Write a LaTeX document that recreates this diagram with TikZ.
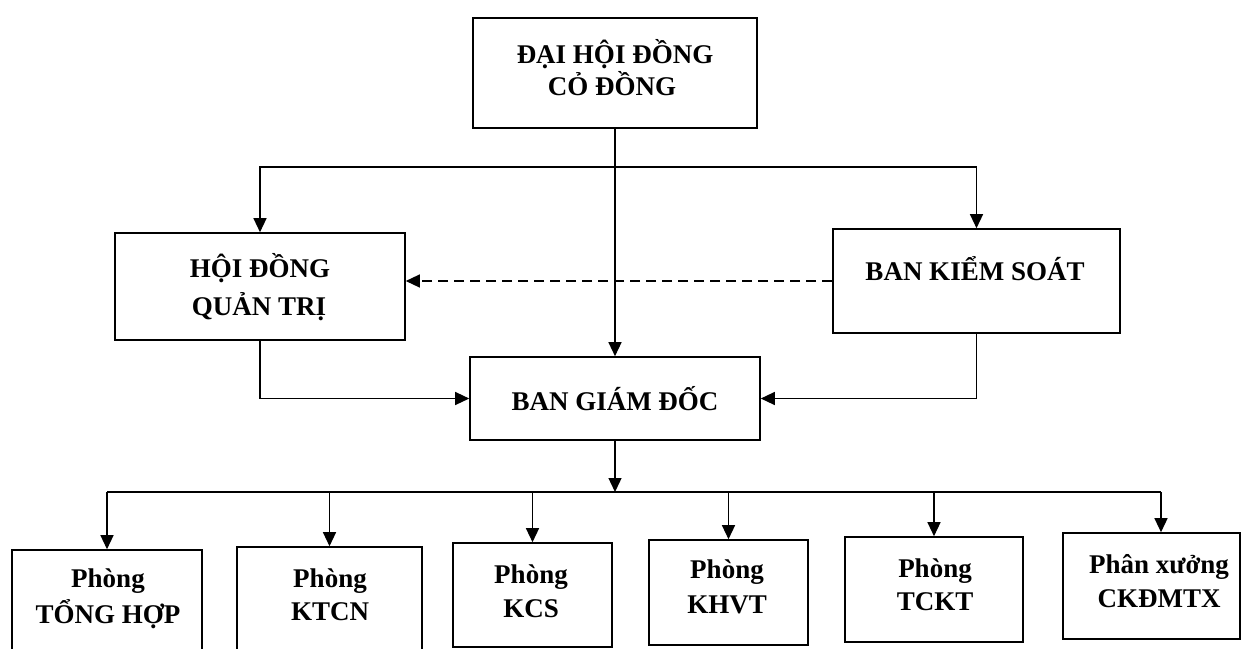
\documentclass[tikz,border=0pt]{standalone}
\usepackage{fontspec}
\setmainfont{Liberation Serif}
\usetikzlibrary{arrows.meta}
\begin{document}
\begin{tikzpicture}[x=1pt,y=-1pt,
  box/.style={draw, line width=1.6pt, inner sep=0pt, rectangle},
  arr/.style={-{Triangle[length=14pt,width=13pt]}, line width=1.3pt},
  link/.style={line width=1.3pt},
  dash line/.style={dash pattern=on 10pt off 6pt},
  txt/.style={font=\fontsize{27}{32}\selectfont\bfseries, inner sep=0pt, anchor=base}]
\clip (0,0) rectangle (1246,648);
\fill[white] (0,0) rectangle (1246,648);
% boxes
\node[box, minimum width=284pt, minimum height=110pt] (dh) at (615,73) {};
\node[box, minimum width=290pt, minimum height=107pt] (hd) at (260,286.5) {};
\node[box, minimum width=287pt, minimum height=104pt] (bk) at (976.5,281) {};
\node[box, minimum width=290pt, minimum height=83pt] (bg) at (615,398.5) {};
\node[box, minimum width=190pt, minimum height=105pt] (c1) at (107,602.5) {};
\node[box, minimum width=185pt, minimum height=105pt] (c2) at (329.5,599.5) {};
\node[box, minimum width=159pt, minimum height=104pt] (c3) at (532.5,595) {};
\node[box, minimum width=159pt, minimum height=105pt] (c4) at (728.5,592.5) {};
\node[box, minimum width=178pt, minimum height=105pt] (c5) at (934,589.5) {};
\node[box, minimum width=177pt, minimum height=106pt] (c6) at (1151.5,586) {};
% texts
\node[txt] (dht1) at (615,63) {ĐẠI HỘI ĐỒNG};
\node[txt] (dht2) at (612,95) {CỎ ĐỒNG};
\node[txt] (hdt1) at (260,277) {HỘI ĐỒNG};
\node[txt] (hdt2) at (259,315) {QUẢN TRỊ};
\node[txt] (bkt) at (975,280) {BAN KIỂM SOÁT};
\node[txt] (bgt) at (615,410) {BAN GIÁM ĐỐC};
\node[txt] (c1a) at (108,587) {Phòng};
\node[txt] (c1b) at (108,623) {TỔNG HỢP};
\node[txt] (c2a) at (330,587) {Phòng};
\node[txt] (c2b) at (330,620) {KTCN};
\node[txt] (c3a) at (531,583) {Phòng};
\node[txt] (c3b) at (531,617) {KCS};
\node[txt] (c4a) at (727,578) {Phòng};
\node[txt] (c4b) at (727,613) {KHVT};
\node[txt] (c5a) at (935,577) {Phòng};
\node[txt] (c5b) at (935,610) {TCKT};
\node[txt] (c6a) at (1159,573) {Phân xưởng};
\node[txt] (c6b) at (1159,607) {CKĐMTX};
% junctions
\coordinate (jt) at (615,167);
\coordinate (bus) at (615,492);
% connectors
\draw[arr] (dh.south) -- (bg.north);
\draw[arr] (jt) -| (hd.north);
\draw[arr] (jt) -| (bk.north);
\draw[arr, dash line] (bk.west) -- (hd.east |- bk.west);
\draw[arr] (hd.south) |- (bg.west);
\draw[arr] (bk.south) |- (bg.east);
\draw[arr] (bg.south) -- (bus);
\draw[link] (c1.north |- bus) -- ([xshift=9.5pt]c6.north |- bus);
\draw[arr] (c1.north |- bus) -- (c1.north);
\draw[arr] (c2.north |- bus) -- (c2.north);
\draw[arr] (c3.north |- bus) -- (c3.north);
\draw[arr] (c4.north |- bus) -- (c4.north);
\draw[arr] (c5.north |- bus) -- (c5.north);
\draw[arr] ([xshift=9.5pt]c6.north |- bus) -- ([xshift=9.5pt]c6.north);
\end{tikzpicture}
\end{document}
